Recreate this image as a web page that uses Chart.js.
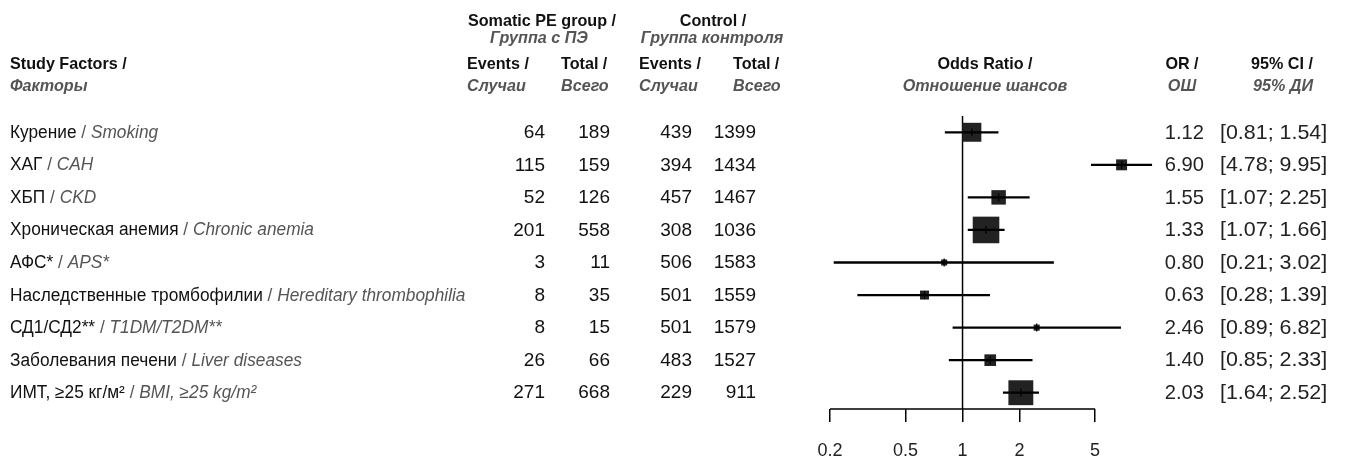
<!DOCTYPE html>
<html>
<head>
<meta charset="utf-8">
<script src="https://cdn.jsdelivr.net/npm/chart.js@4"></script>
<style>
  html, body { margin: 0; padding: 0; background: #fff; }
  canvas { display: block; }
</style>
</head>
<body>
<canvas id="forest" width="1349" height="461"></canvas>
<script>
// Study factors (Russian / English)
const factorsRu = ['Курение', 'ХАГ', 'ХБП', 'Хроническая анемия', 'АФС*',
  'Наследственные тромбофилии', 'СД1/СД2**', 'Заболевания печени', 'ИМТ, ≥25 кг/м²'];
const factorsEn = ['Smoking', 'CAH', 'CKD', 'Chronic anemia', 'APS*',
  'Hereditary thrombophilia', 'T1DM/T2DM**', 'Liver diseases', 'BMI, ≥25 kg/m²'];

// Somatic PE group
const peEvents = [64, 115, 52, 201, 3, 8, 8, 26, 271];
const peTotal = [189, 159, 126, 558, 11, 35, 15, 66, 668];

// Control group
const ctrlEvents = [439, 394, 457, 308, 506, 501, 501, 483, 229];
const ctrlTotal = [1399, 1434, 1467, 1036, 1583, 1559, 1579, 1527, 911];

// Odds ratios with 95% confidence limits
const oddsRatio = [1.12, 6.90, 1.55, 1.33, 0.80, 0.63, 2.46, 1.40, 2.03];
const ciLower = [0.81, 4.78, 1.07, 1.07, 0.21, 0.28, 0.89, 0.85, 1.64];
const ciUpper = [1.54, 9.95, 2.25, 1.66, 3.02, 1.39, 6.82, 2.33, 2.52];

// Relative weight of each factor (%), shown by the box area
const weightPct = [15.6, 5.2, 9.1, 30.7, 1.6, 3.5, 1.6, 5.9, 26.9];

// Odds-ratio axis
const axisTicks = [0.2, 0.5, 1, 2, 5];
const axisMin = 0.2;
const axisMax = 11;      // room on the right for intervals beyond the last tick
const nullValue = 1;

const FONT = '"Liberation Sans", Arial, Helvetica, sans-serif';
const BLACK = '#111';
const GRAY = '#555';
const BOX_PER_SQRT_W = 4.8;   // box side (px) per sqrt(weight)

function drawText(ctx, str, x, y, o) {
  ctx.save();
  ctx.font = `${o.italic ? 'italic ' : ''}${o.bold ? 'bold ' : ''}${o.size}px ${FONT}`;
  ctx.fillStyle = o.color || BLACK;
  ctx.textBaseline = 'middle';
  ctx.textAlign = o.align || 'left';
  ctx.translate(x, y);
  ctx.scale(o.sx || 1, 1);
  ctx.fillText(str, 0, 0);
  const w = ctx.measureText(str).width * (o.sx || 1);
  ctx.restore();
  return w;
}

const tablePlugin = {
  id: 'forestTable',
  beforeDatasetsDraw(chart) {
    const { ctx, chartArea, scales: { x } } = chart;
    const px = x.getPixelForValue(nullValue);
    ctx.save();
    ctx.strokeStyle = '#000';
    ctx.lineWidth = 1.5;
    ctx.beginPath();
    // line of no effect
    ctx.moveTo(px, chartArea.top);
    ctx.lineTo(px, chartArea.bottom);
    // axis baseline between the first and last tick
    ctx.moveTo(x.getPixelForValue(axisTicks[0]), chartArea.bottom);
    ctx.lineTo(x.getPixelForValue(axisTicks[axisTicks.length - 1]), chartArea.bottom);
    ctx.stroke();
    ctx.restore();
  },
  afterDraw(chart) {
    const { ctx, scales: { y } } = chart;
    const H = { size: 17, bold: true, sx: 0.95 };
    const HI = { size: 17, bold: true, italic: true, color: GRAY, sx: 0.95 };

    // column headings
    drawText(ctx, 'Study Factors /', 10, 64, H);
    drawText(ctx, 'Факторы', 10, 86, HI);
    drawText(ctx, 'Somatic PE group /', 542, 21, { ...H, align: 'center' });
    drawText(ctx, 'Группа с ПЭ', 539, 38, { ...HI, align: 'center' });
    drawText(ctx, 'Control /', 713, 21, { ...H, align: 'center' });
    drawText(ctx, 'Группа контроля', 712, 38, { ...HI, align: 'center' });
    [[467, 'Events /', 'Случаи'], [561, 'Total /', 'Всего'],
     [639, 'Events /', 'Случаи'], [733, 'Total /', 'Всего']].forEach(([cx, a, b]) => {
      drawText(ctx, a, cx, 64, H);
      drawText(ctx, b, cx, 86, HI);
    });
    drawText(ctx, 'Odds Ratio /', 985, 64, { ...H, align: 'center' });
    drawText(ctx, 'Отношение шансов', 985, 86, { ...HI, align: 'center' });
    drawText(ctx, 'OR /', 1182, 64, { ...H, align: 'center' });
    drawText(ctx, 'ОШ', 1182, 86, { ...HI, align: 'center' });
    drawText(ctx, '95% CI /', 1282, 64, { ...H, align: 'center' });
    drawText(ctx, '95% ДИ', 1283, 86, { ...HI, align: 'center' });

    // one table row per factor
    const L = { size: 18, sx: 0.96 };
    const N = { size: 19, align: 'right' };
    factorsRu.forEach((ru, i) => {
      const yy = y.getPixelForValue(i) + 0.5;
      let cx = 10;
      cx += drawText(ctx, ru, cx, yy, L);
      cx += drawText(ctx, ' / ', cx, yy, { ...L, color: GRAY });
      drawText(ctx, factorsEn[i], cx, yy, { ...L, italic: true, color: GRAY });

      drawText(ctx, String(peEvents[i]), 545, yy, N);
      drawText(ctx, String(peTotal[i]), 610, yy, N);
      drawText(ctx, String(ctrlEvents[i]), 692, yy, N);
      drawText(ctx, String(ctrlTotal[i]), 756, yy, N);

      drawText(ctx, oddsRatio[i].toFixed(2), 1204, yy, { size: 21, align: 'right', color: '#222', sx: 0.96 });
      drawText(ctx, `[${ciLower[i].toFixed(2)}; ${ciUpper[i].toFixed(2)}]`, 1220, yy,
        { size: 21, color: '#222', sx: 1.02 });
    });
  }
};

const rows = factorsEn;
const orPoints = oddsRatio.map((v, i) => ({ x: v, y: rows[i] }));

new Chart(document.getElementById('forest'), {
  type: 'bar',
  data: {
    labels: rows,
    datasets: [
      {
        label: '95% CI',
        data: ciLower.map((lo, i) => [lo, ciUpper[i]]),
        backgroundColor: '#000',
        borderWidth: 0,
        barThickness: 1.6,
        clip: false,
        order: 1
      },
      {
        type: 'scatter',
        label: 'OR',
        data: orPoints,
        pointStyle: 'rect',
        pointRadius: weightPct.map(w => BOX_PER_SQRT_W * Math.sqrt(w) / Math.SQRT2),
        backgroundColor: '#222',
        borderWidth: 0,
        clip: false,
        order: 2
      },
      {
        type: 'scatter',
        label: 'OR mark',
        data: orPoints,
        pointStyle: 'line',
        rotation: 90,
        pointRadius: 4,
        borderColor: '#000',
        borderWidth: 1.2,
        clip: false,
        order: 0
      }
    ]
  },
  options: {
    indexAxis: 'y',
    responsive: false,
    maintainAspectRatio: false,
    devicePixelRatio: 1,
    animation: false,
    events: [],
    layout: { padding: { left: 830, right: 189, top: 116, bottom: 0 } },
    plugins: { legend: { display: false }, tooltip: { enabled: false } },
    scales: {
      x: {
        type: 'logarithmic',
        min: axisMin,
        max: axisMax,
        bounds: 'data',
        position: 'bottom',
        afterBuildTicks: s => { s.ticks = axisTicks.map(v => ({ value: v })); },
        afterFit: s => { s.height = 52; },
        border: { display: false },
        grid: { drawOnChartArea: false, drawTicks: true, tickLength: 13, color: '#000', lineWidth: 1.5 },
        ticks: {
          color: '#222',
          font: { family: FONT, size: 18 },
          padding: 18,
          autoSkip: false,
          maxRotation: 0,
          callback: v => String(v)
        }
      },
      y: { type: 'category', display: false, offset: true }
    }
  },
  plugins: [tablePlugin]
});
</script>
</body>
</html>
